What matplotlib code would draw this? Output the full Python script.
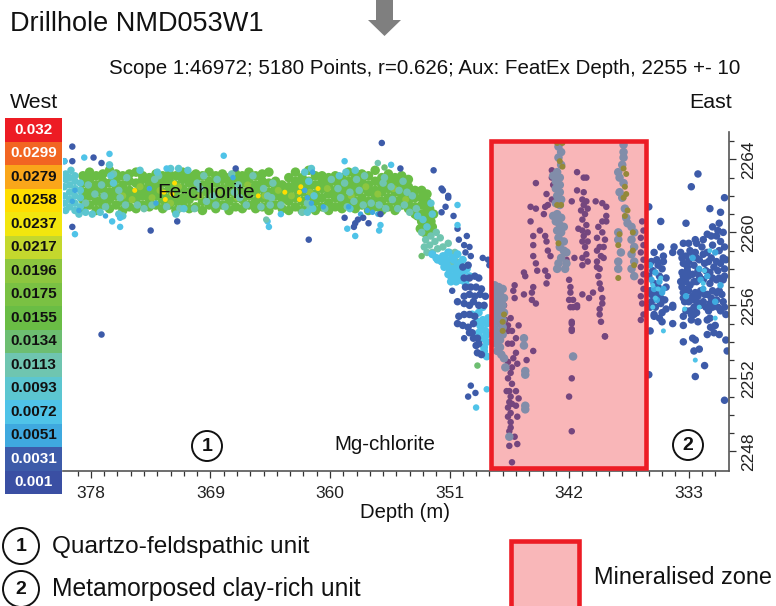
#!/usr/bin/env python3
"""Drillhole NMD053W1 - depth section scatter with the mineralised zone marked."""

import numpy as np
import matplotlib
matplotlib.use("Agg")
import matplotlib.pyplot as plt
from matplotlib.colors import BoundaryNorm, ListedColormap
from matplotlib.patches import Circle, Polygon, Rectangle

plt.rcParams["font.family"] = ["Liberation Sans", "DejaVu Sans"]

SCALE_LABELS = ["0.032", "0.0299", "0.0279", "0.0258", "0.0237", "0.0217", "0.0196", "0.0175",
                "0.0155", "0.0134", "0.0113", "0.0093", "0.0072", "0.0051", "0.0031", "0.001"]
SCALE_COLOURS = ["#ED1C24", "#F26522", "#FAA61A", "#FFDD00", "#F2E60E", "#C4D82D", "#8DC63F", "#7AC143",
                 "#6ABD45", "#6DBE71", "#6FC5B0", "#5CC6D0", "#4FC3E8", "#3FA9DF", "#3D5BA9", "#3A4FA3"]
DEPTH_TICKS = [378, 369, 360, 351, 342, 333]
HEIGHT_TICKS = [2248, 2252, 2256, 2260, 2264]
ZONE_DEPTH = [347.9, 336.2]
ZONE_HEIGHT = [2247.1, 2265.0]

# points as (depth, height), one list per colour class
band_green = [
    (378.6, 2261.3), (378.6, 2261.8), (378.6, 2262.2), (378.6, 2262.7), (378.6, 2263.1),
    (378.1, 2261.5), (378.1, 2262.0), (378.1, 2262.4), (378.1, 2262.9), (378.1, 2263.3),
    (377.6, 2261.2), (377.6, 2261.7), (377.6, 2262.2), (377.6, 2262.6), (377.6, 2263.1),
    (377.1, 2261.5), (377.1, 2261.9), (377.1, 2262.4), (377.1, 2262.8), (377.1, 2263.2),
    (376.6, 2261.3), (376.6, 2261.8), (376.6, 2262.2), (376.6, 2262.7), (376.6, 2263.4),
    (376.1, 2261.5), (376.1, 2262.0), (376.1, 2262.4), (376.1, 2262.9), (376.1, 2263.2),
    (375.6, 2261.2), (375.6, 2261.7), (375.6, 2262.2), (375.6, 2262.6), (375.6, 2263.1),
    (375.1, 2261.4), (375.1, 2261.9), (375.1, 2262.3), (375.1, 2262.8), (375.1, 2263.2),
    (374.6, 2261.3), (374.6, 2261.8), (374.6, 2262.2), (374.6, 2262.7), (374.6, 2263.3),
    (374.1, 2261.5), (374.1, 2262.0), (374.1, 2262.4), (374.1, 2262.9), (374.1, 2263.1),
    (373.6, 2261.4), (373.6, 2261.8), (373.6, 2262.2), (373.6, 2262.6), (373.6, 2263.0),
    (373.1, 2261.5), (373.1, 2262.0), (373.1, 2262.4), (373.1, 2262.8), (373.1, 2263.2),
    (372.6, 2261.3), (372.6, 2261.8), (372.6, 2262.2), (372.6, 2262.7), (372.6, 2263.1),
    (372.1, 2261.5), (372.1, 2261.9), (372.1, 2262.4), (372.1, 2262.8), (372.1, 2263.2),
    (371.6, 2261.2), (371.6, 2261.7), (371.6, 2262.2), (371.6, 2262.6), (371.6, 2263.1),
    (371.1, 2261.5), (371.1, 2261.9), (371.1, 2262.4), (371.1, 2262.9), (371.1, 2263.3),
    (370.6, 2261.3), (370.6, 2261.8), (370.6, 2262.2), (370.6, 2262.7), (370.6, 2263.1),
    (370.1, 2261.4), (370.1, 2262.0), (370.1, 2262.4), (370.1, 2262.8), (370.1, 2263.2),
    (369.6, 2261.2), (369.6, 2261.7), (369.6, 2262.2), (369.6, 2262.6), (369.6, 2263.1),
    (369.1, 2261.5), (369.1, 2261.9), (369.1, 2262.4), (369.1, 2262.8), (369.1, 2263.3),
    (368.6, 2261.3), (368.6, 2261.8), (368.6, 2262.2), (368.6, 2262.7), (368.6, 2263.1),
    (368.1, 2261.5), (368.1, 2262.0), (368.1, 2262.4), (368.1, 2262.9), (368.1, 2263.2),
    (367.6, 2261.2), (367.6, 2261.7), (367.6, 2262.2), (367.6, 2262.6), (367.6, 2263.0),
    (367.1, 2261.4), (367.1, 2261.9), (367.1, 2262.4), (367.1, 2262.8), (367.1, 2263.2),
    (366.6, 2261.3), (366.6, 2261.8), (366.6, 2262.2), (366.6, 2262.7), (366.6, 2263.1),
    (366.1, 2261.5), (366.1, 2262.0), (366.1, 2262.4), (366.1, 2262.9), (366.1, 2263.3),
    (365.6, 2261.3), (365.6, 2261.7), (365.6, 2262.2), (365.6, 2262.6), (365.6, 2263.1),
    (365.1, 2261.4), (365.1, 2261.9), (365.1, 2262.4), (365.1, 2262.8), (365.1, 2263.2),
    (364.6, 2261.2), (364.6, 2261.7), (364.6, 2262.2), (364.6, 2262.7), (364.6, 2263.3),
    (364.1, 2261.5), (364.1, 2262.0), (364.1, 2262.4), (364.1, 2262.8),
    (363.6, 2261.3), (363.6, 2261.8), (363.6, 2262.2), (363.6, 2262.6),
    (363.1, 2261.2), (363.1, 2261.7), (363.1, 2262.1), (363.1, 2262.5), (363.1, 2263.0),
    (362.6, 2261.4), (362.6, 2261.9), (362.6, 2262.4), (362.6, 2262.8), (362.6, 2263.3),
    (362.1, 2261.2), (362.1, 2261.7), (362.1, 2262.2), (362.1, 2262.6), (362.1, 2263.0),
    (361.6, 2261.4), (361.6, 2261.9), (361.6, 2262.4), (361.6, 2262.8), (361.6, 2263.4),
    (361.1, 2261.2), (361.1, 2261.7), (361.1, 2262.1), (361.1, 2262.6), (361.1, 2263.1),
    (360.6, 2261.4), (360.6, 2261.9), (360.6, 2262.4), (360.6, 2262.8), (360.6, 2263.1),
    (360.1, 2261.2), (360.1, 2261.6), (360.1, 2262.1), (360.1, 2262.6), (360.1, 2263.0),
    (359.6, 2261.4), (359.6, 2261.9), (359.6, 2262.3), (359.6, 2262.8), (359.6, 2263.1),
    (359.1, 2261.3), (359.1, 2261.7), (359.1, 2262.2), (359.1, 2262.6), (359.1, 2263.0),
    (358.6, 2261.5), (358.6, 2261.9), (358.6, 2262.4), (358.6, 2262.8), (358.6, 2263.3),
    (358.1, 2261.3), (358.1, 2261.7), (358.1, 2262.2), (358.1, 2262.6), (358.1, 2263.1),
    (357.6, 2261.5), (357.6, 2261.9), (357.6, 2262.4), (357.6, 2262.8), (357.6, 2263.2),
    (357.1, 2261.2), (357.1, 2261.7), (357.1, 2262.2), (357.1, 2262.6), (357.1, 2263.1),
    (356.6, 2261.4), (356.6, 2261.9), (356.6, 2262.3), (356.6, 2262.8), (356.6, 2263.4),
    (356.1, 2261.2), (356.1, 2261.7), (356.1, 2262.2), (356.1, 2262.6), (356.1, 2263.0),
    (355.6, 2261.4), (355.6, 2261.9), (355.6, 2262.4), (355.6, 2262.8), (355.6, 2263.2),
    (355.1, 2261.2), (355.1, 2261.7), (355.1, 2262.2), (355.1, 2262.6), (355.1, 2263.0),
    (354.6, 2261.5), (354.6, 2261.9), (354.6, 2262.3), (354.6, 2262.7), (354.6, 2263.1),
    (354.1, 2261.3), (354.1, 2261.7), (354.1, 2262.1), (354.1, 2262.5), (354.1, 2262.9),
    (353.6, 2261.0), (353.6, 2261.4), (353.6, 2261.9), (353.6, 2262.3),
    (353.1, 2260.6), (353.1, 2261.0), (353.1, 2261.5), (353.1, 2261.9), (353.1, 2262.3),
    (352.7, 2260.8), (352.7, 2261.2), (352.7, 2261.7), (352.7, 2262.1),
    (353.4, 2260.9), (353.0, 2260.3), (352.6, 2260.0), (352.4, 2260.6), (352.2, 2261.0), (353.2, 2260.2),
    (352.8, 2260.5), (352.5, 2261.3), (352.3, 2260.3), (352.9, 2260.0),
]
band_lime = [
    (375.6, 2262.0), (374.9, 2261.8), (374.3, 2262.5), (373.4, 2261.9), (372.8, 2262.3), (372.0, 2261.6),
    (371.4, 2262.5), (369.8, 2262.0), (368.4, 2262.2), (367.0, 2261.9), (366.2, 2262.6), (364.9, 2262.0),
    (363.9, 2262.3), (362.9, 2262.0), (361.5, 2262.2), (360.2, 2262.4), (358.4, 2262.0), (357.3, 2262.5),
    (356.4, 2262.1), (355.2, 2262.4), (354.3, 2261.8),
]
band_yellow = [
    (374.7, 2262.3), (372.5, 2262.2), (372.4, 2261.8), (371.9, 2262.1), (371.7, 2262.7), (365.4, 2262.0),
    (362.3, 2262.2), (362.3, 2261.8), (362.2, 2262.5), (363.4, 2262.2), (360.9, 2262.4),
]
band_teal = [
    (378.4, 2261.6), (378.2, 2262.6), (377.7, 2262.1), (376.9, 2261.4), (376.3, 2263.2), (375.4, 2261.5),
    (375.3, 2263.0), (374.0, 2261.3), (373.4, 2261.5), (373.2, 2262.9), (372.9, 2263.1), (371.3, 2261.3),
    (370.2, 2261.3), (369.5, 2263.1), (368.5, 2262.9), (367.9, 2261.4), (367.4, 2263.2), (366.3, 2261.5),
    (365.2, 2261.4), (365.0, 2262.4), (364.7, 2262.0), (364.5, 2261.5), (364.3, 2262.7), (364.4, 2261.9),
    (362.1, 2261.1), (361.7, 2261.6), (361.5, 2261.3), (359.4, 2262.4), (359.2, 2261.9), (358.9, 2262.7),
    (358.7, 2261.4), (358.5, 2262.2), (358.2, 2261.7), (358.0, 2262.9), (357.8, 2262.3), (357.5, 2261.5),
    (357.4, 2263.1), (356.9, 2261.6), (356.0, 2262.7), (355.8, 2261.3), (355.4, 2262.5), (355.3, 2261.8),
    (354.9, 2261.3), (354.8, 2262.3), (354.5, 2262.8), (354.4, 2261.5), (354.2, 2262.2), (354.0, 2261.1),
    (353.8, 2262.0), (353.5, 2261.3), (377.2, 2262.6), (377.0, 2262.0), (375.9, 2262.3), (375.8, 2261.9),
    (374.5, 2261.5), (372.3, 2261.4), (370.0, 2262.7), (369.8, 2262.4), (369.3, 2261.7), (368.8, 2262.0),
    (368.6, 2261.5), (367.2, 2262.2), (366.9, 2262.6), (366.8, 2261.9), (365.8, 2263.1), (363.7, 2261.5),
    (360.4, 2261.3), (359.9, 2262.9), (356.3, 2261.5), (355.9, 2263.0),
    (353.1, 2260.0), (352.8, 2259.6), (352.4, 2259.8), (352.0, 2260.0), (352.9, 2259.2), (352.5, 2259.3),
    (352.1, 2259.5), (351.7, 2259.7), (352.7, 2258.9), (352.3, 2258.9), (351.9, 2259.1), (351.5, 2259.2),
    (351.1, 2259.4), (351.4, 2258.7), (351.0, 2258.9), (350.6, 2258.9), (350.9, 2258.3), (350.5, 2258.4),
]
band_cyan = [
    (380.0, 2262.0), (380.0, 2262.5), (380.0, 2261.6), (379.9, 2261.2), (379.9, 2262.9), (379.9, 2263.2),
    (379.6, 2261.4), (379.6, 2261.8), (379.6, 2262.2), (379.6, 2262.6), (379.6, 2263.0), (379.5, 2263.4),
    (379.2, 2261.2), (379.2, 2261.6), (379.2, 2262.0), (379.2, 2262.4), (379.2, 2262.8), (379.2, 2263.1),
    (378.8, 2261.4), (378.8, 2261.9), (378.8, 2262.3), (378.8, 2262.7), (378.9, 2261.0), (378.4, 2261.1),
    (377.9, 2261.0), (377.3, 2261.1), (376.6, 2263.7), (376.5, 2263.1), (376.3, 2262.7), (375.9, 2261.0),
    (375.6, 2260.9), (374.3, 2263.4), (373.0, 2263.3), (372.0, 2263.5), (371.6, 2261.0), (371.4, 2263.5),
    (371.0, 2261.3), (370.7, 2263.4), (361.9, 2263.3), (361.7, 2261.1), (361.6, 2262.8), (361.4, 2263.5),
    (361.3, 2261.3), (361.2, 2262.0), (359.3, 2263.1), (358.8, 2263.3), (358.5, 2261.3), (358.1, 2263.4),
    (353.4, 2260.9), (353.0, 2260.7), (352.7, 2260.3), (352.4, 2261.6), (352.3, 2261.0),
]
band_blue = [
    (379.4, 2261.7), (379.2, 2262.3), (378.9, 2261.2), (376.9, 2260.9), (373.6, 2262.4), (373.1, 2261.6),
    (367.3, 2263.0), (361.9, 2262.3), (361.7, 2261.9), (361.4, 2261.6), (361.3, 2263.3), (360.5, 2261.4),
    (358.6, 2261.4), (357.7, 2261.0), (357.2, 2261.2), (356.8, 2261.1), (356.4, 2261.0),
]
slope_cyan = [
    (352.3, 2258.8), (351.9, 2258.5), (351.5, 2258.7), (351.1, 2258.9), (350.7, 2258.5), (351.2, 2258.2),
    (350.8, 2258.0), (350.4, 2258.2), (350.9, 2257.6), (350.5, 2257.7), (350.1, 2257.9), (350.2, 2257.4),
    (350.4, 2258.8), (350.0, 2258.5), (349.7, 2258.0), (349.8, 2257.2), (349.5, 2257.6),
    (352.0, 2258.6), (351.6, 2258.4), (351.2, 2258.5), (350.8, 2258.6), (351.4, 2258.1), (351.0, 2258.0),
    (350.6, 2258.0), (350.2, 2258.3), (351.1, 2257.7), (350.7, 2257.6), (350.3, 2257.7), (349.9, 2257.9),
    (350.9, 2257.3), (350.5, 2257.3), (350.1, 2257.4),
    (349.3, 2255.5), (348.9, 2255.1), (348.5, 2255.9), (348.6, 2254.7), (348.2, 2254.4), (348.4, 2253.7),
    (348.1, 2255.3), (348.8, 2255.6), (348.5, 2255.2), (348.2, 2255.0), (348.7, 2254.9), (348.3, 2254.6),
    (348.5, 2254.2), (348.8, 2254.5), (348.2, 2254.0), (348.4, 2253.5), (348.2, 2253.2),
]
slope_blue = [
    (350.0, 2258.1), (349.6, 2258.2), (349.9, 2257.5), (349.5, 2257.5), (349.1, 2257.6), (348.8, 2257.5),
    (349.8, 2257.0), (349.4, 2257.0), (349.0, 2257.0), (348.6, 2256.9), (349.9, 2256.5), (349.5, 2256.6),
    (349.1, 2256.5), (348.7, 2256.6), (348.3, 2256.5), (349.9, 2256.1), (349.5, 2256.0), (349.2, 2256.2),
    (348.8, 2256.0), (348.4, 2256.0), (350.3, 2255.4), (349.9, 2255.5), (349.5, 2255.5), (349.1, 2255.4),
    (350.4, 2255.0), (350.0, 2254.9), (349.6, 2254.8), (349.2, 2255.0), (349.3, 2254.5),
    (348.9, 2254.2), (349.0, 2253.8), (349.5, 2254.5), (349.2, 2254.2), (348.8, 2253.9), (348.9, 2253.4),
    (348.6, 2253.3), (350.4, 2256.2),
]
slope_green = [(353.1, 2258.7), (348.9, 2252.7)]
scatter_navy = [
    (379.4, 2264.7), (379.4, 2263.9), (377.8, 2264.1), (377.2, 2263.8), (380.0, 2263.9), (367.1, 2263.5),
    (379.4, 2260.3), (373.5, 2260.1), (371.5, 2260.6), (377.2, 2254.4), (361.6, 2259.6), (356.1, 2264.9),
    (354.7, 2263.5), (352.2, 2263.4), (351.5, 2262.3), (351.1, 2261.9), (358.9, 2260.8), (358.1, 2260.5),
    (357.5, 2260.8), (357.1, 2260.5), (358.2, 2260.3), (357.9, 2260.7), (356.2, 2261.0), (350.3, 2259.6),
    (349.7, 2259.8), (349.9, 2259.3), (349.8, 2258.9), (349.4, 2258.7), (348.5, 2258.6), (348.1, 2258.5),
    (348.0, 2258.2), (350.8, 2256.8), (349.9, 2254.2), (349.4, 2251.6), (349.05, 2251.2), (349.6, 2251.0),
    (351.6, 2262.4), (351.1, 2262.0), (351.6, 2261.1), (351.3, 2261.4), (350.7, 2260.9), (350.4, 2260.2),
    (349.5, 2259.2),
]
scatter_cyan = [
    (378.5, 2264.1), (376.6, 2264.3), (380.0, 2263.9), (368.0, 2264.2), (372.3, 2263.5), (376.4, 2260.6),
    (375.8, 2260.8), (375.8, 2260.3), (379.2, 2259.9), (364.6, 2260.3), (363.7, 2261.0), (358.9, 2263.9),
    (358.7, 2260.2), (358.1, 2259.8), (356.2, 2260.4), (356.3, 2260.1), (355.4, 2263.7), (350.4, 2261.5),
    (350.4, 2260.4), (364.7, 2260.6), (349.0, 2250.4), (348.2, 2251.4),
]
scatter_teal = [(356.4, 2263.8), (364.8, 2260.7)]
scatter_green = [(355.9, 2263.6)]
zone_navy = [
    (344.5, 2262.7), (343.3, 2263.4), (343.3, 2263.0), (343.2, 2262.6), (341.4, 2263.3), (340.9, 2263.0),
    (340.7, 2263.0), (343.7, 2262.1), (343.3, 2261.8), (341.4, 2262.3), (340.9, 2262.2), (341.8, 2261.7),
    (344.9, 2261.4), (344.5, 2261.3), (343.8, 2261.4), (343.6, 2261.5), (343.9, 2261.0), (344.9, 2260.6),
    (341.0, 2261.8), (340.9, 2261.5), (341.1, 2261.2), (340.8, 2261.0), (341.0, 2260.7), (340.7, 2260.4),
    (341.0, 2260.1), (341.3, 2260.2), (340.9, 2259.8), (340.6, 2260.0), (341.0, 2259.5), (340.8, 2259.2),
    (340.7, 2258.8), (341.0, 2258.6), (340.6, 2259.5), (340.6, 2261.3), (340.7, 2261.7), (340.0, 2261.7),
    (339.5, 2261.6), (339.2, 2261.4), (339.2, 2260.9), (339.5, 2260.6), (339.2, 2260.6), (339.8, 2260.3),
    (339.9, 2259.7), (339.5, 2260.0), (339.3, 2259.6), (339.7, 2259.2), (339.4, 2259.2), (339.9, 2259.0),
    (339.6, 2258.7), (339.4, 2258.6), (339.9, 2258.4), (339.7, 2258.0), (339.9, 2258.1), (344.7, 2259.8),
    (344.2, 2260.1), (343.8, 2259.8), (343.7, 2259.5), (344.7, 2259.3), (344.7, 2258.7), (344.5, 2258.3),
    (344.4, 2257.9), (343.6, 2259.0), (343.4, 2258.7), (345.4, 2257.8), (345.3, 2257.6), (343.8, 2257.9),
    (343.6, 2257.6), (343.7, 2257.2), (344.7, 2257.0), (344.8, 2256.7), (345.4, 2256.6), (346.1, 2257.1),
    (346.2, 2256.8), (346.1, 2256.4), (344.8, 2256.3), (344.5, 2256.1), (342.0, 2257.4), (341.9, 2257.0),
    (341.9, 2256.7), (342.0, 2256.3), (341.7, 2256.3), (341.7, 2255.9), (341.4, 2256.0), (341.0, 2256.6),
    (340.5, 2256.4), (340.2, 2256.7), (339.8, 2257.6), (339.7, 2257.2), (339.6, 2256.9), (339.5, 2256.4),
    (339.5, 2256.1), (339.7, 2255.5), (339.6, 2255.1), (341.8, 2255.0), (341.8, 2254.7), (341.0, 2258.2),
    (341.6, 2258.6), (342.2, 2258.5), (340.6, 2258.4), (339.3, 2254.3), (341.4, 2255.9), (339.7, 2255.8),
    (346.9, 2256.0), (346.8, 2255.2), (346.4, 2255.3), (345.8, 2254.9), (346.6, 2254.9), (346.3, 2254.6),
    (346.6, 2254.6), (346.0, 2254.2), (346.3, 2253.9), (346.6, 2253.9), (344.7, 2253.5), (346.0, 2253.4),
    (346.2, 2253.1), (345.2, 2253.0), (346.6, 2252.9), (345.9, 2252.8), (346.3, 2252.6), (346.4, 2252.3),
    (346.6, 2252.0), (346.3, 2251.7), (346.7, 2251.3), (346.5, 2251.3), (346.0, 2251.3), (346.4, 2251.0),
    (345.8, 2250.9), (346.5, 2250.7), (346.3, 2250.6), (346.0, 2250.5), (346.6, 2250.4), (346.4, 2250.1),
    (346.6, 2249.9), (345.9, 2249.9), (346.4, 2249.6), (346.4, 2249.3), (346.5, 2249.1), (346.1, 2248.8),
    (346.5, 2248.3), (345.9, 2248.4), (346.3, 2247.4), (341.8, 2255.1), (341.8, 2254.6), (341.8, 2252.0),
    (342.0, 2251.0), (341.8, 2249.1), (339.3, 2254.3), (341.9, 2255.9), (336.6, 2255.2), (336.4, 2255.5),
    (336.5, 2256.1), (336.6, 2256.5), (336.4, 2256.9), (336.6, 2257.3), (336.4, 2257.7), (336.6, 2258.1),
    (336.4, 2258.5), (336.6, 2258.9), (336.4, 2259.3), (336.6, 2259.7), (336.4, 2260.1), (336.5, 2260.6),
]
strand_teal = [
    (342.8, 2264.7), (342.6, 2264.4), (342.8, 2264.1), (342.6, 2263.7), (342.9, 2263.3), (343.2, 2263.1),
    (342.7, 2263.0), (343.0, 2262.8), (342.7, 2262.6), (343.0, 2262.4), (342.7, 2262.2), (342.9, 2262.0),
    (342.6, 2261.8), (343.0, 2261.6), (342.7, 2261.5), (343.2, 2260.9), (342.9, 2261.0), (342.6, 2260.8),
    (343.0, 2260.6), (342.7, 2260.4), (342.9, 2260.1), (342.6, 2260.0), (342.4, 2260.3), (342.8, 2259.7),
    (342.4, 2259.5), (342.7, 2259.2), (342.4, 2259.0), (342.6, 2258.6), (342.2, 2258.9), (342.2, 2258.3),
    (342.3, 2258.0), (342.8, 2258.3), (342.9, 2258.0), (337.9, 2264.8), (337.9, 2264.4), (337.9, 2264.1),
    (338.0, 2263.7), (338.3, 2263.3), (338.2, 2263.0), (337.9, 2262.7), (338.2, 2262.2), (338.0, 2261.9),
    (337.8, 2261.3), (337.7, 2260.8), (337.6, 2260.5), (338.3, 2260.0), (338.3, 2259.6), (338.1, 2258.9),
    (338.3, 2258.4), (338.3, 2258.0), (337.3, 2260.3), (337.1, 2260.0), (337.3, 2259.6), (337.1, 2259.2),
    (337.3, 2258.8), (337.1, 2258.4), (337.3, 2258.0), (337.1, 2257.6),
    (347.6, 2257.1), (347.3, 2257.0), (347.0, 2256.9), (347.6, 2256.7), (347.2, 2256.6), (346.9, 2256.4),
    (347.6, 2256.3), (347.3, 2256.2), (347.0, 2256.0), (347.6, 2255.9), (347.2, 2255.8), (346.9, 2255.6),
    (347.6, 2255.5), (347.3, 2255.4), (347.0, 2255.2), (347.6, 2255.1), (347.2, 2255.0), (347.0, 2254.8),
    (347.6, 2254.7), (347.3, 2254.5), (347.0, 2254.4), (347.6, 2254.3), (347.2, 2254.1), (347.5, 2253.9),
    (347.2, 2253.7), (347.4, 2253.5), (347.1, 2253.3), (346.9, 2253.1), (345.4, 2254.2), (345.4, 2253.8),
    (346.8, 2252.6), (345.3, 2252.4), (345.3, 2252.2), (345.3, 2250.5), (345.3, 2250.3), (346.5, 2248.8),
    (341.7, 2253.2),
]
strand_olive = [
    (342.9, 2264.9), (342.5, 2264.9), (342.7, 2263.9), (342.5, 2263.6), (342.9, 2261.5), (342.6, 2261.5),
    (342.8, 2259.4), (337.9, 2263.5), (337.7, 2263.2), (337.8, 2262.5), (337.7, 2262.1), (337.9, 2261.9),
    (337.6, 2261.2), (337.8, 2260.9), (338.2, 2259.9), (338.3, 2259.3), (338.3, 2257.5), (337.2, 2260.0),
    (337.2, 2259.0), (337.1, 2258.2), (347.0, 2255.1), (346.9, 2255.5), (347.0, 2254.6),
]
east_navy = [
    (332.3, 2263.2), (332.8, 2262.5), (330.3, 2261.9), (331.4, 2261.3), (330.6, 2261.1), (330.7, 2260.5),
    (333.2, 2260.5), (335.1, 2260.6), (336.0, 2261.4), (331.6, 2259.9), (330.8, 2260.1), (332.5, 2259.6),
    (333.4, 2259.4), (334.1, 2259.2), (335.1, 2259.2), (334.2, 2258.9), (334.9, 2258.7), (335.6, 2258.9),
    (335.8, 2258.4), (335.3, 2258.2), (335.7, 2257.9), (336.0, 2257.6), (335.2, 2257.6), (335.6, 2257.2),
    (334.7, 2257.0), (335.9, 2256.8), (335.4, 2256.6), (335.8, 2256.2), (335.1, 2256.1), (334.7, 2255.8),
    (335.0, 2255.6), (335.6, 2255.5), (334.2, 2256.0), (334.2, 2255.0), (333.4, 2255.4), (332.8, 2255.2),
    (332.3, 2255.1), (331.6, 2255.2), (331.0, 2254.9), (333.6, 2258.9), (333.2, 2258.7), (332.9, 2259.0),
    (332.5, 2258.9), (332.0, 2259.2), (331.6, 2258.9), (331.2, 2259.3), (330.7, 2259.0), (330.3, 2259.2),
    (333.4, 2258.3), (333.0, 2258.4), (332.6, 2258.2), (332.2, 2258.5), (331.8, 2258.3), (331.3, 2258.6),
    (330.9, 2258.4), (330.4, 2258.6), (333.5, 2257.8), (333.1, 2257.9), (332.7, 2257.7), (332.3, 2257.9),
    (331.4, 2257.8), (330.8, 2257.9), (330.3, 2258.0), (333.6, 2257.3), (333.2, 2257.3), (332.9, 2257.1),
    (332.4, 2257.3), (331.9, 2257.4), (331.4, 2257.2), (330.9, 2257.4), (330.4, 2257.4), (333.4, 2256.7),
    (333.0, 2256.8), (332.5, 2256.7), (332.1, 2256.8), (331.6, 2256.6), (331.2, 2256.8), (330.7, 2256.8),
    (333.3, 2256.2), (332.8, 2256.3), (332.4, 2256.2), (331.9, 2256.2), (331.4, 2256.1), (330.9, 2256.3),
    (330.4, 2256.2), (332.9, 2255.7), (332.4, 2255.6), (331.5, 2255.7), (330.6, 2255.7), (333.4, 2254.9),
    (332.6, 2255.5), (331.4, 2255.3), (330.2, 2255.5), (333.4, 2254.0), (332.7, 2254.2), (332.5, 2254.1),
    (332.2, 2253.6), (332.6, 2253.5), (331.8, 2252.7), (332.5, 2252.1), (330.3, 2250.8), (330.1, 2253.5),
    (330.2, 2254.1), (331.6, 2254.4), (331.1, 2254.5), (330.7, 2254.4), (331.35, 2254.8), (336.0, 2252.2),
    (335.6, 2255.4), (335.0, 2255.1), (334.2, 2255.9), (335.9, 2254.6),
    (333.5, 2258.6), (333.1, 2258.1), (332.8, 2258.9), (332.4, 2258.6), (331.9, 2258.8), (331.5, 2258.4),
    (331.1, 2258.1), (330.6, 2258.3), (330.2, 2258.5), (333.4, 2257.6), (333.0, 2257.6), (332.6, 2257.3),
    (332.2, 2257.6), (331.7, 2257.9), (331.2, 2257.5), (330.7, 2257.5), (330.3, 2257.6), (333.5, 2257.0),
    (333.1, 2256.9), (332.7, 2256.5), (332.3, 2256.5), (331.8, 2256.6), (331.3, 2256.4), (330.9, 2256.7),
    (330.5, 2256.6), (333.4, 2256.4), (333.0, 2256.2), (332.6, 2255.9), (332.1, 2256.0), (331.7, 2255.9),
    (331.2, 2255.9), (330.8, 2255.9), (330.3, 2255.9), (333.2, 2255.7), (332.8, 2255.5), (330.9, 2259.8),
    (331.3, 2259.8), (331.9, 2259.6), (332.4, 2259.4), (333.0, 2259.4), (330.4, 2260.0), (330.6, 2259.5),
    (331.2, 2260.3), (335.4, 2258.5), (335.0, 2258.0), (334.7, 2257.5), (335.3, 2257.0), (335.8, 2256.6),
    (335.1, 2256.4), (334.8, 2256.3), (335.5, 2255.9), (335.2, 2255.3), (335.9, 2255.9), (334.9, 2258.4),
]
east_blue = [
    (335.9, 2258.2), (335.5, 2257.8), (335.2, 2257.3), (335.6, 2256.9), (335.0, 2256.7), (335.4, 2256.3),
    (334.9, 2256.9), (335.8, 2257.4), (332.1, 2257.4), (331.9, 2256.9), (332.2, 2258.0), (331.6, 2257.6),
    (331.0, 2256.2), (333.2, 2256.5), (332.7, 2258.6), (331.0, 2258.9), (330.6, 2257.1),
]
east_cyan = [
    (335.7, 2257.1), (335.3, 2256.9), (335.1, 2257.5), (335.5, 2256.4), (335.7, 2255.9), (334.9, 2254.6),
    (332.5, 2253.0), (331.9, 2257.2), (331.8, 2257.9), (331.4, 2259.0), (333.3, 2255.8), (332.2, 2255.9),
    (331.0, 2255.3),
]

POINT_GROUPS = [
    (band_green, 0.0145, 9.5), (band_lime, 0.0185, 7.0), (band_teal, 0.0103, 7.5), (band_cyan, 0.0083, 7.5),
    (band_yellow, 0.0250, 5.0), (band_blue, 0.0045, 5.5), (slope_cyan, 0.0062, 8.0), (slope_blue, 0.0030, 7.5),
    (slope_green, 0.0125, 6.5), (scatter_navy, 0.0020, 6.5),
    (scatter_cyan, 0.0062, 6.5), (scatter_teal, 0.0103, 6.5), (scatter_green, 0.0125, 6.5),
    (zone_navy, 0.0020, 6.5), (strand_teal, 0.0062, 8.5), (strand_olive, 0.0145, 6.0),
    (east_navy, 0.0020, 7.5), (east_blue, 0.0041, 6.5), (east_cyan, 0.0062, 5.0),
]

W, H = 776, 606
fig = plt.figure(figsize=(W / 100, H / 100), dpi=100)

# main axes, x runs from west (deep) to east
ax = fig.add_axes([63 / W, 1 - 470.5 / H, 665.5 / W, 338.5 / H])
ax.set_xlim(380.1, 330.0)
ax.set_ylim(2246.95, 2265.5)

cmap = ListedColormap(SCALE_COLOURS[::-1])
norm = BoundaryNorm(np.linspace(0.0, 0.032, 17), 16)
for pts, val, size_px in POINT_GROUPS:
    arr = np.array(pts)
    ax.scatter(arr[:, 0], arr[:, 1], c=[val] * len(arr), cmap=cmap, norm=norm,
               s=(size_px * 0.72) ** 2, linewidths=0, zorder=2)

ax.add_patch(Rectangle((ZONE_DEPTH[0], ZONE_HEIGHT[0]), ZONE_DEPTH[1] - ZONE_DEPTH[0],
                       ZONE_HEIGHT[1] - ZONE_HEIGHT[0], fc=(0.93, 0.11, 0.14, 0.32),
                       ec="#ED1C24", lw=3.3, zorder=3))

for side in ("top", "left"):
    ax.spines[side].set_visible(False)
for side in ("bottom", "right"):
    ax.spines[side].set_color("#555555")
    ax.spines[side].set_linewidth(1.2)

ax.yaxis.tick_right()
ax.set_xticks(DEPTH_TICKS)
ax.set_xticks(np.arange(331, 380), minor=True)
ax.set_yticks(HEIGHT_TICKS)
ax.set_yticks(np.arange(2248, 2266), minor=True)
ax.tick_params(axis="both", which="major", length=5, width=0.9, color="#333333", labelsize=12.5, labelcolor="#222222")
ax.tick_params(axis="both", which="minor", length=3.5, width=0.9, color="#333333")
ax.tick_params(axis="x", pad=6)
ax.tick_params(axis="y", pad=4)
for lab in ax.get_yticklabels():
    lab.set_rotation(90)
    lab.set_va("center")
ax.set_xlabel("Depth (m)", fontsize=14.6, color="#111111")
ax.xaxis.set_label_coords((405 - 63) / 665.5, -0.1255)
ax.xaxis.label.set_va("center")

# everything else is placed in picture pixels on a full-figure layer
over = fig.add_axes([0, 0, 1, 1], facecolor="none")
over.set_xlim(0, W)
over.set_ylim(H, 0)
over.axis("off")

over.text(10, 24, "Drillhole NMD053W1", fontsize=19.5, color="#111111", va="center")
over.add_patch(Polygon([(376, 0), (393, 0), (393, 20), (401, 20), (384.5, 36), (368, 20), (376, 20)],
                       fc="#7F7F7F", ec="none"))
over.text(109, 68, "Scope 1:46972; 5180 Points, r=0.626; Aux: FeatEx Depth, 2255 +- 10",
          fontsize=14.8, color="#111111", va="center")
over.text(10, 102, "West", fontsize=15.4, color="#111111", va="center")
over.text(689, 102, "East", fontsize=15.4, color="#111111", va="center")

for i, (lab, col) in enumerate(zip(SCALE_LABELS, SCALE_COLOURS)):
    top = 118 + i * 23.5
    over.add_patch(Rectangle((5, top), 57, 23.5, fc=col, ec="none"))
    txt_col = "white" if i in (0, 1, 14, 15) else "#111111"
    over.text(33.5, top + 11.7, lab, fontsize=11, fontweight="bold", color=txt_col, ha="center", va="center")

over.text(157, 192, "Fe-chlorite", fontsize=14.9, color="#111111", va="center")
over.text(334, 445, "Mg-chlorite", fontsize=14.8, color="#111111", va="center")

for cx, cy, rad, lab in [(207, 446, 15, "1"), (688, 445, 15, "2"), (21, 546, 18, "1"), (21, 589, 18, "2")]:
    over.add_patch(Circle((cx, cy), rad, fc="white", ec="#111111", lw=1.4))
    over.text(cx, cy + 0.5, lab, fontsize=14, fontweight="bold", color="#111111", ha="center", va="center")

over.text(52, 547, "Quartzo-feldspathic unit", fontsize=17.6, color="#111111", va="center")
over.text(52, 589, "Metamorposed clay-rich unit", fontsize=17.7, color="#111111", va="center")

over.add_patch(Rectangle((510.5, 541), 68, 70, fc="#F9B7B9", ec="#ED1C24", lw=3.3, clip_on=True))
over.text(594, 577, "Mineralised zone", fontsize=16.9, color="#111111", va="center")

fig.savefig("out.png", dpi=100)
